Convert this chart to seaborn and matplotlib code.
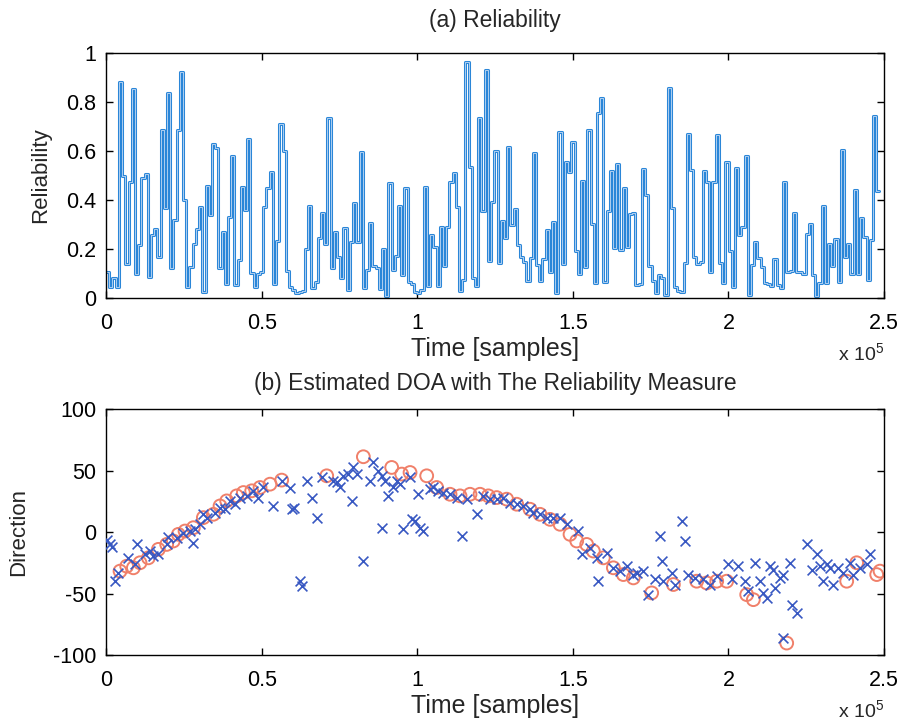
import numpy as np
import pandas as pd
import matplotlib
matplotlib.use("Agg")
import matplotlib.pyplot as plt
from matplotlib.ticker import FixedLocator, FixedFormatter
import seaborn as sns

# ---------------- data ----------------
# (a) reliability per analysis frame (step plot)
reliability = [
    0.107, 0.046, 0.08, 0.046, 0.88, 0.50, 0.14, 0.475, 0.853, 0.10, 0.216, 0.49, 0.505, 0.087,
    0.257, 0.28, 0.166, 0.686, 0.366, 0.835, 0.121, 0.318, 0.686, 0.924, 0.40, 0.044, 0.128,
    0.219, 0.28, 0.37, 0.026, 0.458, 0.34, 0.63, 0.613, 0.124, 0.27, 0.056, 0.33, 0.58, 0.053, 0.155,
    0.454, 0.36, 0.647, 0.103, 0.046, 0.097, 0.107, 0.37, 0.45, 0.516, 0.056, 0.233, 0.709, 0.60,
    0.11, 0.046, 0.033, 0.019, 0.026, 0.029, 0.199, 0.376, 0.039, 0.067, 0.246, 0.348, 0.219,
    0.736, 0.121, 0.268, 0.169, 0.08, 0.287, 0.033, 0.23, 0.386, 0.227, 0.597, 0.039,
    0.114, 0.305, 0.131, 0.124, 0.037, 0.199, 0.01, 0.471, 0.114, 0.173, 0.376, 0.094, 0.448,
    0.064, 0.056, 0.026, 0.019, 0.033, 0.452, 0.05, 0.257, 0.207, 0.05, 0.291, 0.132, 0.291,
    0.475, 0.509, 0.373, 0.03, 0.073, 0.965, 0.536, 0.083, 0.05, 0.736, 0.356, 0.93, 0.151,
    0.393, 0.60,
    0.141, 0.316, 0.246, 0.618, 0.299, 0.362, 0.216, 0.169, 0.148, 0.069, 0.162, 0.59, 0.135,
    0.071, 0.158, 0.278, 0.107, 0.309, 0.019, 0.676, 0.137, 0.554, 0.513, 0.635, 0.192, 0.097,
    0.478, 0.128, 0.686, 0.301, 0.06, 0.754, 0.815, 0.064, 0.355, 0.52, 0.203, 0.547, 0.196, 0.448,
    0.21, 0.343, 0.348, 0.053, 0.056, 0.527, 0.42, 0.132, 0.071, 0.019, 0.094, 0.08, 0.012,
    0.859, 0.366, 0.044, 0.030, 0.026, 0.141, 0.669, 0.522, 0.169, 0.137, 0.148, 0.52, 0.475,
    0.107, 0.472, 0.665, 0.141, 0.06, 0.556, 0.193, 0.046, 0.529, 0.257, 0.291, 0.58, 0.012, 0.135,
    0.23, 0.162, 0.128, 0.06, 0.056, 0.05, 0.159, 0.053, 0.042, 0.475, 0.107, 0.11, 0.348,
    0.107, 0.105, 0.097, 0.26, 0.302, 0.094, 0.01, 0.06, 0.376, 0.06, 0.22, 0.132, 0.241,
    0.067, 0.604, 0.169, 0.219, 0.097, 0.441, 0.097, 0.325, 0.25, 0.073, 0.237, 0.743, 0.437,
]
frame_hop = 1031  # samples per frame

# (b) all DOA estimates (crosses)
doa_all_t = [
    300, 1285, 1820, 2890, 3960, 7175, 9320, 10070, 12530, 14140, 15210, 16815, 19490, 20030,
    22700, 24850, 27000, 27850, 28600, 30200, 31270, 32340, 35020, 36630, 38230, 39840, 41450,
    43050, 45200, 47340, 48950, 50550, 53760, 56440, 59120, 59650, 60400, 62330, 62870, 64470,
    66080, 67690, 69290, 73040, 74110, 75190, 76260, 77860, 78930, 79470, 80540,
    82680, 84820, 85890, 87500, 88570, 89640, 88570, 90710, 92320, 93390, 94460, 95530, 97680,
    98210, 99280, 100350, 100890, 101960, 104100, 105170, 106780, 108390, 110530, 112670,
    114280, 115880, 119100, 121240, 123380, 125520, 127660, 129800, 131950, 134090, 136230,
    137300, 139440, 141590, 143730, 145870, 148010, 151760, 152830, 155510, 157650, 158190,
    160860, 163010, 165150, 167290,
    169430, 170510, 172650, 174250, 176400, 178000, 178540, 179070, 181750, 182820, 184960,
    186030, 187110, 189250, 191930, 194070, 196210, 199960, 201030, 203170, 205310, 206380,
    208530, 210130, 211200, 212270, 213350, 214420, 214950, 216560, 217630, 217630, 219770,
    220310, 221910, 225130, 226730, 228340, 229410, 230480, 231550, 232620, 233690, 235300,
    236900, 239050, 240120, 242260, 244400, 245470,
]
doa_all_deg = [
    -6.8, -10.1, -12, -39.5, -33.2, -21, -25.9, -9.5, -18.2, -15.5, -19.6, -18.2, -10.1, -4.1,
    -4.6, -0.5, 0.8, -8.7, 2.2, 6.3, 14.4, 11.7, 15.8, 19.9, 18.5, 25.3, 22.6,
    28, 29.4, 33.5, 28, 36.2, 21.2, 41.6, 35.6, 18.5, 19.9, -39.5, -44.1, 41.6,
    28, 11.7, 44.4, 41.6, 40.3, 36.2, 45.7, 47.1, 25.3, 52.5, 47.1,
    -23.7, 41.6, 56.6, 49.8, 45.7, 41.6, 3.5, 29.4, 36.2, 41.6, 38.9, 2.2, 44.4,
    10.3, 9, 30.7, 3.5, 0.8, 34.8, 36.2, 33.5, 32.1, 30.7, 28,
    -3.3, 26.7, 14.4, 29.4, 26.7, 26.7, 28, 23.9, 22.6, 21.2, 18.5,
    15.8, 14.4, 11.7, 11.7, 11.7, 6.3, 0.8, -18.2, -12.8, -21, -40,
    -16.9, -29.1, -31.8, -27.8,
    -34.6, -33.2, -31.8, -50.9, -38.6, -3.3, -23.7, -40, -33.2, -42.7, 9,
    -7.3, -34.6, -37.3, -38.6, -42.7, -35.9, -26.4, -38.6, -27.8, -40, -48.2,
    -25, -40, -49.5, -53.6, -27.8, -30.5, -45.4, -37.3, -34.6, -86.3, -25,
    -59, -65.9, -10.1, -30.5, -18.2, -27.8, -40, -26.4, -29.1, -42.7, -29.1,
    -33.2, -25, -34.6, -29.1, -26.4, -18.2,
]

# (b) DOA estimates kept by the reliability measure (circles)
doa_rel_t = [
    4500, 6640, 8780, 10920, 13600, 16810, 19490, 21630, 23240, 25380, 28060, 31270, 34490,
    36630, 38770, 41980, 44130, 46800, 49480, 52690, 56440, 70900, 82680,
    91780, 95000, 97680, 103030, 106240, 110530, 113740, 116950, 120170, 122840, 125520,
    128730, 131950, 136230, 139440, 142660, 145870, 149080, 151230, 154440, 156580, 159790,
    163010, 166220,
    169430, 175320, 182290, 189780, 192990, 196210, 199420, 205850, 207990, 218700, 237980,
    241190, 247620, 248690,
]
doa_rel_deg = [
    -31.8, -27.8, -29.1, -25, -21, -14.1, -10.1, -7.3, -1.9, 0.8, 3.5, 11.7, 14.4,
    21.2, 25.3, 29.4, 32.1, 33.5, 36.2, 38.9, 42.2, 45.7, 61.2,
    52.5, 47.1, 48.4, 45.7, 36.2, 30.7, 29.4, 30.7, 30.7, 29.4, 28,
    26.7, 22.6, 18.5, 14.4, 10.3, 6.3, -1.9, -7.3, -10.1, -15.5, -21,
    -29.1, -34.6,
    -37.3, -49.5, -42.7, -40, -41.4, -40, -40, -50.9, -55, -90.3, -40,
    -25, -34.6, -31.8,
]

x_ticks = [0, 50000, 100000, 150000, 200000, 250000]
x_tick_labels = ["0", "0.5", "1", "1.5", "2", "2.5"]
rel_ticks = [0, 0.2, 0.4, 0.6, 0.8, 1.0]
rel_tick_labels = ["0", "0.2", "0.4", "0.6", "0.8", "1"]
doa_ticks = [-100, -50, 0, 50, 100]
doa_tick_labels = ["-100", "-50", "0", "50", "100"]

# ---------------- style ----------------
sns.set_style("white")
plt.rcParams["font.family"] = ["Liberation Sans", "DejaVu Sans"]
plt.rcParams["mathtext.fontset"] = "custom"
plt.rcParams["mathtext.rm"] = "Liberation Sans"
plt.rcParams["mathtext.it"] = "Liberation Sans"

fig = plt.figure(figsize=(9.04, 7.26), dpi=100)
ax1 = fig.add_axes([0.1173, 0.5895, 0.8607, 0.3375])
ax2 = fig.add_axes([0.1173, 0.0978, 0.8607, 0.3388])

# --- (a) reliability step plot ---
vals = np.array(reliability + [reliability[-1]])
t = np.arange(len(vals)) * frame_hop
df_a = pd.DataFrame({"t": t, "r": vals})
sns.lineplot(data=df_a, x="t", y="r", ax=ax1, drawstyle="steps-post",
             color="#2a86d8", lw=2.2, estimator=None, sort=False)
sns.lineplot(data=df_a, x="t", y="r", ax=ax1, drawstyle="steps-post",
             color="#c4daf4", lw=0.6, estimator=None, sort=False)
ax1.set_ylim(0, 1)
ax1.yaxis.set_major_locator(FixedLocator(rel_ticks))
ax1.yaxis.set_major_formatter(FixedFormatter(rel_tick_labels))
ax1.set_ylabel("Reliability", fontsize=16, labelpad=11)
ax1.set_title("(a) Reliability", fontsize=16.5, pad=19)

# --- (b) DOA scatter ---
df_rel = pd.DataFrame({"t": doa_rel_t, "d": doa_rel_deg})
df_all = pd.DataFrame({"t": doa_all_t, "d": doa_all_deg})
sns.scatterplot(data=df_rel, x="t", y="d", ax=ax2, marker="o", s=85,
                facecolor="none", edgecolor="#f0806a", linewidth=1.4, zorder=2)
sns.scatterplot(data=df_all, x="t", y="d", ax=ax2, marker="x", s=50,
                color="#3858c2", linewidth=1.2, zorder=3)
ax2.set_ylim(-100, 100)
ax2.yaxis.set_major_locator(FixedLocator(doa_ticks))
ax2.yaxis.set_major_formatter(FixedFormatter(doa_tick_labels))
ax2.set_ylabel("Direction", fontsize=16, labelpad=17)
ax2.set_title("(b) Estimated DOA with The Reliability Measure", fontsize=16.5, pad=14)

for ax in (ax1, ax2):
    ax.set_xlim(0, 250000)
    ax.xaxis.set_major_locator(FixedLocator(x_ticks))
    ax.xaxis.set_major_formatter(FixedFormatter(x_tick_labels))
    ax.set_xlabel("Time [samples]", fontsize=18, labelpad=2)
    ax.tick_params(direction="in", length=5, width=1, labelsize=15.5,
                   top=True, right=True, bottom=True, left=True, colors="black")
    ax.tick_params(axis="x", pad=11)
    ax.tick_params(axis="y", pad=7)
    ax.text(1.0, -0.225, r"x 10$^{5}$", transform=ax.transAxes, ha="right", va="center",
            fontsize=14)
    for s in ax.spines.values():
        s.set_visible(True)
        s.set_color("black")
        s.set_linewidth(1.0)
    ax.set_facecolor("white")

fig.savefig("out.png", dpi=100, facecolor="white")
